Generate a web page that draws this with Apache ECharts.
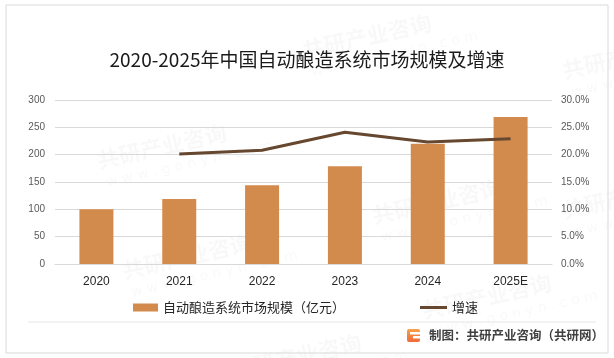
<!DOCTYPE html>
<html><head><meta charset="utf-8">
<script src="https://cdn.jsdelivr.net/npm/echarts@6/dist/echarts.min.js"></script>
<style>html,body{margin:0;padding:0;background:#fff}#c{width:614px;height:358px}</style>
</head><body><div id="c"></div>
<script>
const categories = ['2020','2021','2022','2023','2024','2025E'];
const marketSize = [100, 119, 144, 179, 220, 269];
const growthRate = [null, 0.201, 0.208, 0.241, 0.223, 0.229];
const leftTicks = [0, 300, 50];
const rightTicks = [0, 0.3, 0.05];
const titleText = '2020-2025年中国自动酿造系统市场规模及增速';
const barName = '自动酿造系统市场规模（亿元）';
const lineName = '增速';
const footerText = '制图：共研产业咨询（共研网）';

const chart = echarts.init(document.getElementById('c'), null, {renderer:'canvas'});
const wmFont = 'bold 22px "Noto Sans CJK SC"';
const wm = [];
const wmPos = [[95,150],[300,40],[370,205],[560,60],[120,260],[420,300],[230,360],[560,200]];
wmPos.forEach(p=>{
  wm.push({type:'text', x:p[0], y:p[1], rotation:0.22, silent:true, z:-1,
    style:{text:'共研产业咨询', font:wmFont, fill:'rgba(0,0,0,0.028)'}});
  wm.push({type:'text', x:p[0]+10, y:p[1]+26, rotation:0.22, silent:true, z:-1,
    style:{text:'w w w . g o n y n . c o m', font:'14px "DejaVu Sans"', fill:'rgba(0,0,0,0.028)'}});
});
chart.setOption({
  animation:false,
  title:{text:titleText, left:'center', top:45,
    textStyle:{fontFamily:'Noto Sans CJK SC', fontSize:19, fontWeight:'normal', color:'#1a1a1a'}},
  grid:{left:55, right:62, top:100, bottom:94},
  legend:[
    {data:[barName], left:128, top:296, itemWidth:25, itemHeight:8, icon:'rect',
      textStyle:{fontFamily:'Noto Sans CJK SC', fontSize:13, color:'#262626'}},
    {data:[lineName], left:415, top:296, itemWidth:27, itemHeight:3, icon:'rect',
      textStyle:{fontFamily:'Noto Sans CJK SC', fontSize:13, color:'#262626'}}
  ],
  xAxis:{type:'category', data:categories,
    axisLine:{lineStyle:{color:'#D9D9D9'}}, axisTick:{show:false},
    axisLabel:{color:'#262626', fontSize:12, margin:12, fontFamily:'Liberation Sans'}},
  yAxis:[
    {type:'value', min:leftTicks[0], max:leftTicks[1], interval:leftTicks[2],
      axisLine:{show:false}, axisTick:{show:false},
      axisLabel:{color:'#595959', fontSize:10, margin:10, fontFamily:'Liberation Sans'},
      splitLine:{lineStyle:{color:'#D9D9D9'}}},
    {type:'value', min:rightTicks[0], max:rightTicks[1], interval:rightTicks[2],
      axisLine:{show:false}, axisTick:{show:false}, splitLine:{show:false},
      axisLabel:{color:'#595959', fontSize:10, margin:9, fontFamily:'Liberation Sans',
        formatter:v=>(v*100).toFixed(1)+'%'}}
  ],
  series:[
    {name:barName, type:'bar', data:marketSize, barWidth:34,
      itemStyle:{color:'#D38B4D'}},
    {name:lineName, type:'line', yAxisIndex:1, data:growthRate, showSymbol:false,
      symbol:'none', lineStyle:{color:'#66472F', width:3}, itemStyle:{color:'#66472F'}}
  ],
  graphic:[
    {type:'rect', shape:{x:6,y:5,width:602,height:348}, style:{fill:'none', stroke:'#D9D9D9', lineWidth:1}, silent:true},
    {type:'line', shape:{x1:28,y1:322,x2:596,y2:322}, style:{stroke:'#E6E6E6', lineWidth:1}, silent:true},
    {type:'rect', shape:{x:407,y:329,width:13,height:13, r:2},
      style:{fill:new echarts.graphic.LinearGradient(0,0,0,1,[{offset:0,color:'#F7A14A'},{offset:1,color:'#F06A3A'}])}, silent:true},
    {type:'rect', shape:{x:410,y:332,width:10,height:2.5}, style:{fill:'#fff'}, silent:true},
    {type:'rect', shape:{x:413,y:336,width:7,height:2.5}, style:{fill:'#fff'}, silent:true},
    {type:'text', x:429, y:335, style:{text:footerText, font:'bold 12.5px "Noto Sans CJK SC"', fill:'#404040', textVerticalAlign:'middle'}, silent:true}
  ].concat(wm)
});
</script></body></html>
